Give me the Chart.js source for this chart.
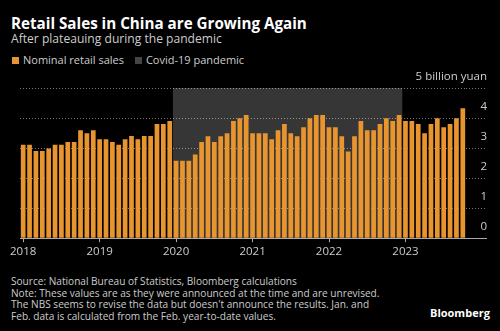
<!DOCTYPE html>
<html>
<head>
<meta charset="utf-8">
<script src="https://cdn.jsdelivr.net/npm/chart.js@4"></script>
<style>
  html, body { margin: 0; padding: 0; background: #000; }
  body { width: 500px; height: 331px; position: relative; overflow: hidden; font-family: "Open Sans", sans-serif; color: #ddd; }
  .abs { position: absolute; white-space: nowrap; }
  #title { left: 11px; top: 13px; font-size: 15.2px; font-weight: 700; color: #fff; }
  #subtitle { left: 11px; top: 30px; font-size: 12.1px; color: #ccc; }
  #legend { left: 12px; top: 52px; font-size: 11px; color: #ccc; }
  #legend span.box { display: inline-block; width: 7px; height: 7px; margin-right: 4px; vertical-align: 0px; }
  #legend span.item { margin-right: 8px; }
  #footer { left: 11px; top: 276px; font-size: 10.1px; line-height: 11.7px; color: #ccc; }
  #logo { left: 430px; top: 305px; font-size: 11px; font-weight: 700; color: #fff; }
  #wrap { position: absolute; left: 0; top: 60px; width: 500px; height: 210px; }
</style>
</head>
<body>
<div id="title" class="abs">Retail Sales in China are Growing Again</div>
<div id="subtitle" class="abs">After plateauing during the pandemic</div>
<div id="legend" class="abs">
  <span class="item"><span class="box" style="background:#e8952f"></span>Nominal retail sales</span>
  <span class="item"><span class="box" style="background:#454545"></span>Covid-19 pandemic</span>
</div>
<div id="wrap"><canvas id="chart" width="500" height="210"></canvas></div>
<div id="footer" class="abs">Source: National Bureau of Statistics, Bloomberg calculations<br>Note: These values are as they were announced at the time and are unrevised.<br>The NBS seems to revise the data but doesn't announce the results. Jan. and<br>Feb. data is calculated from the Feb. year-to-date values.</div>
<div id="logo" class="abs">Bloomberg</div>
<script>
const years = ['2018', '2019', '2020', '2021', '2022', '2023'];
const sales2018 = [3.11, 3.11, 2.90, 2.90, 2.99, 3.11, 3.11, 3.20, 3.20, 3.59, 3.49, 3.59];
const sales2019 = [3.29, 3.29, 3.20, 3.11, 3.29, 3.40, 3.29, 3.40, 3.40, 3.80, 3.80, 3.90];
const sales2020 = [2.58, 2.58, 2.58, 2.79, 3.20, 3.39, 3.20, 3.39, 3.49, 3.90, 3.99, 4.10];
const sales2021 = [3.49, 3.49, 3.49, 3.29, 3.59, 3.80, 3.49, 3.39, 3.69, 3.99, 4.10, 4.10];
const sales2022 = [3.69, 3.69, 3.39, 2.89, 3.39, 3.90, 3.59, 3.59, 3.80, 3.99, 3.90, 4.10];
const sales2023 = [3.90, 3.90, 3.80, 3.49, 3.80, 3.99, 3.69, 3.80, 3.99, 4.33];
const covidStart = '2020-01';
const covidEnd = '2022-12';
const yTicks = [0, 1, 2, 3, 4, 5];
const yUnit = 'billion yuan';

const sales = [].concat(sales2018, sales2019, sales2020, sales2021, sales2022, sales2023);
const labels = sales.map((v, i) => {
    const y = years[Math.floor(i / 12)];
    const m = String(i % 12 + 1).padStart(2, '0');
    return y + '-' + m;
});

// covid shading behind the bars
const covidBox = {
    id: 'covidBox',
    beforeDatasetsDraw(chart) {
        const x = chart.scales.x, y = chart.scales.y;
        const i0 = labels.indexOf(covidStart), i1 = labels.indexOf(covidEnd);
        const half = (x.getPixelForValue(1) - x.getPixelForValue(0)) / 2;
        const left = x.getPixelForValue(i0) - half;
        const right = x.getPixelForValue(i1) + half;
        const top = y.getPixelForValue(yTicks[yTicks.length - 1]);
        const bottom = y.getPixelForValue(0);
        const ctx = chart.ctx;
        ctx.save();
        ctx.fillStyle = 'rgba(255,255,255,0.21)';
        ctx.fillRect(left, top, right - left, bottom - top);
        ctx.restore();
    }
};

const ctx = document.getElementById('chart').getContext('2d');
new Chart(ctx, {
    type: 'bar',
    data: {
        labels: labels,
        datasets: [{
            label: 'Nominal retail sales',
            data: sales,
            backgroundColor: '#e8952f',
            borderWidth: 0,
            barPercentage: 0.74,
            categoryPercentage: 1
        }]
    },
    plugins: [covidBox],
    options: {
        responsive: false,
        animation: false,
        layout: { padding: { left: 20, top: 28, right: 0, bottom: 8 } },
        plugins: { legend: { display: false }, tooltip: { enabled: false } },
        scales: {
            x: {
                offset: true,
                grid: {
                    offset: false,
                    drawOnChartArea: false,
                    tickLength: 4,
                    color: (c) => (c.index % 12 === 0 ? '#aaa' : 'rgba(0,0,0,0)')
                },
                border: { display: true, color: '#aaa', width: 1 },
                ticks: {
                    autoSkip: false,
                    maxRotation: 0,
                    padding: 3,
                    color: '#ccc',
                    font: { family: 'Open Sans', size: 11.5 },
                    callback: (v, i) => (i % 12 === 0 ? labels[i].slice(0, 4) : '')
                }
            },
            y: {
                position: 'right',
                min: 0,
                max: 5,
                afterFit: (s) => { s.width = 34; },
                afterBuildTicks: (s) => { s.ticks = yTicks.map(v => ({ value: v })); },
                grid: {
                    tickLength: 21,
                    color: (c) => (c.tick && c.tick.value === 0 ? '#aaa' : '#777'),
                    tickColor: (c) => (c.tick && c.tick.value === 0 ? '#aaa' : '#777'),
                    tickBorderDash: (c) => (c.tick && c.tick.value === 0 ? [] : [1, 2])
                },
                border: {
                    display: false,
                    dash: (c) => (c.tick && c.tick.value === 0 ? [] : [1, 2])
                },
                ticks: {
                    mirror: true,
                    padding: 21,
                    labelOffset: -11,
                    color: '#ccc',
                    font: { family: 'Open Sans', size: 11.5 },
                    callback: (v) => (v === 5 ? v + ' ' + yUnit : v)
                }
            }
        }
    }
});
</script>
</body>
</html>
